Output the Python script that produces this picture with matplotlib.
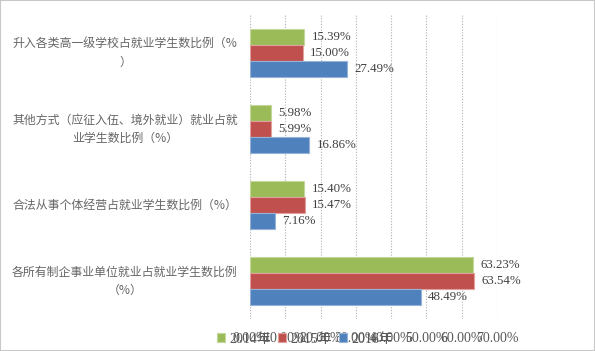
import matplotlib
matplotlib.use("Agg")
import matplotlib.pyplot as plt
import matplotlib.transforms as mtransforms
from matplotlib.patches import Rectangle
import numpy as np

# 数据（从下到上）
categories = [
    "各所有制企事业单位就业占就业学生数比例\n（%）",
    "合法从事个体经营占就业学生数比例（%）",
    "其他方式（应征入伍、境外就业）就业占就\n业学生数比例（%）",
    "升入各类高一级学校占就业学生数比例（%\n）",
]
years = ["2014年", "2015年", "2016年"]
v2014 = [63.23, 15.40, 5.98, 15.39]
v2015 = [63.54, 15.47, 5.99, 15.00]
v2016 = [48.49, 7.16, 16.86, 27.49]
colors = ["#9BBB59", "#C0504D", "#4F81BD"]
edges = ["#c4d79b", "#e0a09e", "#95b3d7"]

serif = ["Liberation Serif", "Noto Sans CJK SC"]
cjk = ["Noto Sans CJK SC", "DejaVu Sans"]
grey = "#595959"

fig = plt.figure(figsize=(5.95, 3.51), dpi=100)
ax = fig.add_axes([250 / 595, 32 / 351, 247 / 595, 304 / 351])

y = np.arange(len(categories))
h = 0.21
series = [v2014, v2015, v2016]
offsets = [h, 0, -h]
for vals, off, c, ec, lab in zip(series, offsets, colors, edges, years):
    bars = ax.barh(y + off, vals, height=h, color=c, edgecolor=ec,
                   linewidth=0.8, label=lab, zorder=3)
    for b, v in zip(bars, vals):
        ax.text(b.get_width() + 2.0, b.get_y() + b.get_height() / 2,
                f"{v:.2f}%", va="center", ha="left", fontsize=9.3,
                family=serif, color="#404040", clip_on=False)

ax.set_xlim(0, 70)
ax.set_ylim(-0.5, 3.5)
ax.set_xticks(np.arange(0, 71, 10))
ax.set_xticklabels([f"{t:.2f}%" for t in range(0, 71, 10)],
                   family=serif, fontsize=10, color=grey)
ax.tick_params(axis="x", length=0, pad=9)
ax.set_yticks([])
ax.grid(axis="x", color="#b0b0b0", linestyle=(0, (1, 1.5)), linewidth=0.8, zorder=0)
for s in ax.spines.values():
    s.set_visible(False)

# 类别标签，居中放在左侧
trans = mtransforms.blended_transform_factory(fig.transFigure, ax.transData)
for yi, cat in zip(y, categories):
    fig.text(125 / 595, yi, cat, transform=trans, ha="center", va="center",
             multialignment="center", fontsize=8.6, family=cjk, color="#666666",
             linespacing=1.5)

leg = fig.legend(loc="center", bbox_to_anchor=(305 / 595, 12 / 351), ncol=3,
                 frameon=False, prop={"family": serif, "size": 10},
                 handlelength=0.6, handleheight=0.6, handletextpad=0.3,
                 columnspacing=0.5, borderpad=0.2)
for t in leg.get_texts():
    t.set_color(grey)

fig.patches.append(Rectangle((0, 0), 1, 1, transform=fig.transFigure,
                             fill=False, edgecolor="#c8c8c8", linewidth=1.5))

fig.savefig("out.png", dpi=100)
